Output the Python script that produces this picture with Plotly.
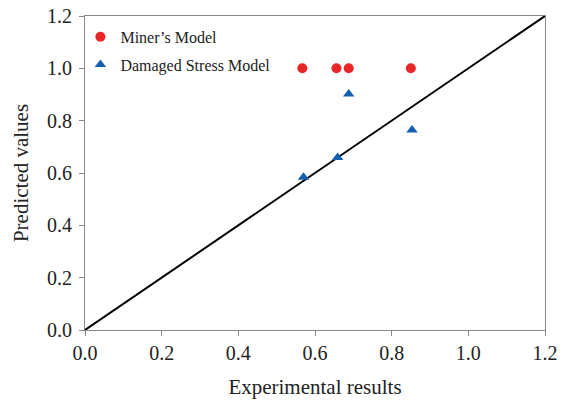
import plotly.graph_objects as go

miner_x = [0.567, 0.656, 0.688, 0.850]
miner_y = [1.0, 1.0, 1.0, 1.0]
dsm_x = [0.570, 0.659, 0.688, 0.853]
dsm_y = [0.584, 0.659, 0.902, 0.764]
line_x = [0.0, 1.2]
line_y = [0.0, 1.2]
ticks = [0.0, 0.2, 0.4, 0.6, 0.8, 1.0, 1.2]
tick_text = ["0.0", "0.2", "0.4", "0.6", "0.8", "1.0", "1.2"]

fig = go.Figure()
fig.add_trace(go.Scatter(x=line_x, y=line_y, mode="lines",
                         line=dict(color="black", width=2), showlegend=False))
fig.add_trace(go.Scatter(x=miner_x, y=miner_y, mode="markers", name="Miner’s Model",
                         legendgroup="a",
                         marker=dict(symbol="circle", size=10, color="#e8262a")))
fig.add_trace(go.Scatter(x=dsm_x, y=dsm_y, mode="markers", name="Damaged Stress Model",
                         legendgroup="b",
                         marker=dict(symbol="triangle-up", size=10, color="#1560ad")))

axis_common = dict(range=[0, 1.2], tickvals=ticks, ticktext=tick_text,
                   showgrid=False, zeroline=False, showline=True, linecolor="#888888",
                   linewidth=1, mirror=True, ticks="outside", ticklen=5,
                   tickcolor="#888888", tickfont=dict(size=20, color="#222222"),
                   automargin=False)
fig.update_xaxes(**axis_common, title=dict(text="Experimental results",
                 font=dict(size=21, color="#222222"), standoff=16))
fig.update_yaxes(**axis_common, ticklabelstandoff=3,
                 title=dict(text="Predicted values",
                 font=dict(size=21, color="#222222"), standoff=12))

fig.update_layout(
    width=568, height=400,
    margin=dict(l=85, r=23, t=16, b=70, autoexpand=False),
    plot_bgcolor="white", paper_bgcolor="white",
    font=dict(family="Liberation Serif, Times New Roman, serif", color="#222222"),
    legend=dict(x=-0.01, y=0.988, xanchor="left", yanchor="top",
                font=dict(size=16), bgcolor="rgba(0,0,0,0)", itemwidth=30,
                traceorder="grouped", tracegroupgap=4),
)

fig.write_html("out.html")
